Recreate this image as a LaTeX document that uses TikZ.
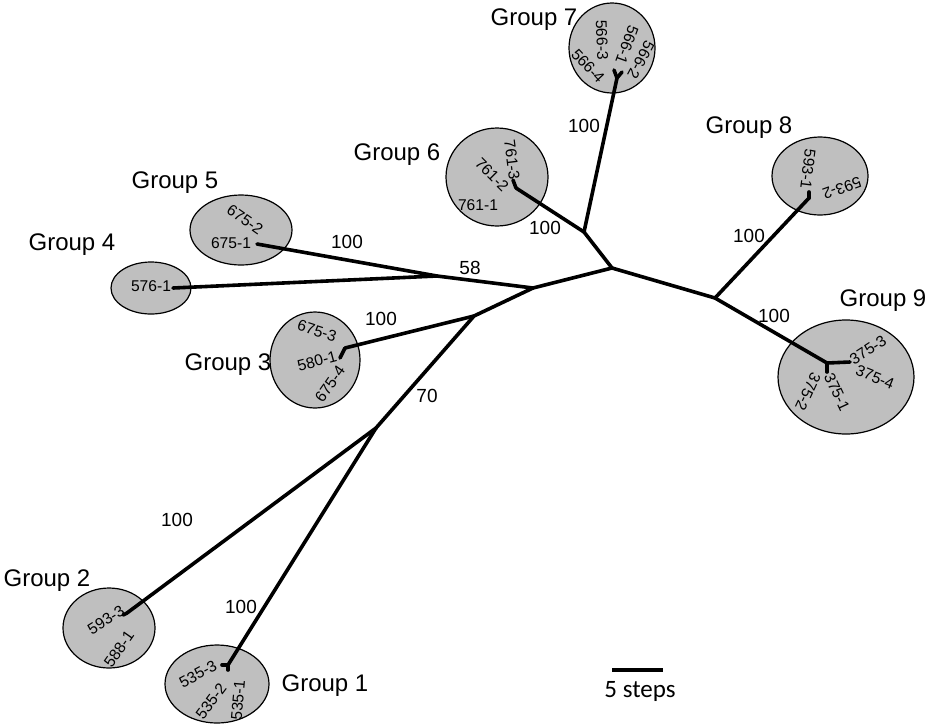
\documentclass[tikz,border=0pt]{standalone}
\usepackage{fontspec}
\setmainfont{Liberation Sans}
\newfontfamily\stepsfont{Carlito}
\usetikzlibrary{shapes.geometric}

\begin{document}
\begin{tikzpicture}[x=0.5pt, y=-0.5pt,
    branch/.style={line width=1.8pt, line join=round, line cap=round},
    grp/.style={ellipse, draw, line width=0.6pt, fill=black!25, inner sep=0pt},
    grpname/.style={font=\fontsize{12}{14}\selectfont},
    boot/.style={font=\fontsize{9.5}{11}\selectfont},
    isolate/.style={font=\fontsize{7.8}{9}\selectfont, inner sep=0pt}]

    \useasboundingbox (0,0) rectangle (931,724);

    \node[grp, minimum width=43pt, minimum height=45pt] (g7) at (612,48) {};
    \node[grp, minimum width=51pt, minimum height=49pt] (g6) at (497,177) {};
    \node[grp, minimum width=51pt, minimum height=35pt] (g5) at (241,230) {};
    \node[grp, minimum width=40pt, minimum height=26pt] (g4) at (151,288) {};
    \node[grp, minimum width=45pt, minimum height=48pt] (g3) at (315,360) {};
    \node[grp, minimum width=48pt, minimum height=39pt] (g8) at (820,176) {};
    \node[grp, minimum width=68pt, minimum height=57pt] (g9) at (846,377) {};
    \node[grp, minimum width=46pt, minimum height=40pt] (g2) at (109,628) {};
    \node[grp, minimum width=52pt, minimum height=39pt] (g1) at (217,684) {};

    \node[grpname] (name7) at (534,20) {Group 7};
    \node[grpname] (name6) at (397,155) {Group 6};
    \node[grpname] (name5) at (175,183) {Group 5};
    \node[grpname] (name4) at (72,245) {Group 4};
    \node[grpname] (name3) at (228,365) {Group 3};
    \node[grpname] (name8) at (749,128) {Group 8};
    \node[grpname] (name9) at (883,301) {Group 9};
    \node[grpname] (name2) at (47,581) {Group 2};
    \node[grpname] (name1) at (325,686) {Group 1};

    \coordinate (root) at (612,268);
    \coordinate (n58) at (533,288);
    \coordinate (n45) at (437,276);
    \coordinate (n70) at (474,316);
    \coordinate (n12) at (376,428);
    \coordinate (n67) at (584,232);
    \coordinate (n89) at (715,298);

    \coordinate (l1) at (228,665);
    \coordinate (l2) at (127,613);
    \coordinate (l3) at (345,348);
    \coordinate (l4) at (173,288);
    \coordinate (l5) at (257,244);
    \coordinate (l6) at (516,188);
    \coordinate (l7) at (617,78);
    \coordinate (l8) at (809,198);
    \coordinate (l9) at (827,363);

    \draw[branch] (l4) -- (n45) -- (n58) -- (root) -- (n89) -- (l9);
    \draw[branch] (l5) -- (n45);
    \draw[branch] (n58) -- (n70) -- (n12) -- (l2);
    \draw[branch] (n12) -- (l1);
    \draw[branch] (n70) -- (l3);
    \draw[branch] (root) -- (n67) -- (l7);
    \draw[branch] (n67) -- (l6);
    \draw[branch] (n89) -- (l8);

    \draw[branch] (l7) -- ++(-3,-8);
    \draw[branch] (l7) -- ++(5,-6);
    \draw[branch] (l9) -- ++(23,-1);
    \draw[branch] (l9) -- ++(0,9);
    \draw[branch] (l6) -- ++(-3,-8);
    \draw[branch] (l3) -- ++(-5,10);
    \draw[branch] (l8) -- ++(0,-6);
    \draw[branch] (l1) -- ++(-6,0);
    \draw[branch] (l1) -- ++(0,5);
    \draw[branch] (l2) -- ++(-4,2);

    \node[boot] (b7) at (584,126) {100};
    \node[boot] (b6) at (545,228) {100};
    \node[boot] (b5) at (347,242) {100};
    \node[boot] (b58) at (470,268) {58};
    \node[boot] (b3) at (381,319) {100};
    \node[boot] (b70) at (427,396) {70};
    \node[boot] (b8) at (749,236) {100};
    \node[boot] (b9) at (774,316) {100};
    \node[boot] (b2) at (177,520) {100};
    \node[boot] (b1) at (241,607) {100};

    \node[isolate, rotate=-88] (i5663) at (602,40) {566-3};
    \node[isolate, rotate=-110] (i5661) at (627,45) {566-1};
    \node[isolate, rotate=-118] (i5662) at (641,60) {566-2};
    \node[isolate, rotate=-47] (i5664) at (588,66) {566-4};

    \node[isolate, rotate=-83] (i7613) at (512,160) {761-3};
    \node[isolate, rotate=-45] (i7612) at (492,175) {761-2};
    \node[isolate] (i7611) at (478,205) {761-1};

    \node[isolate, rotate=-35] (i6752) at (245,220) {675-2};
    \node[isolate] (i6751) at (231,243) {675-1};

    \node[isolate] (i5761) at (151,286) {576-1};

    \node[isolate, rotate=-18] (i6753) at (317,331) {675-3};
    \node[isolate, rotate=15] (i5801) at (317,361) {580-1};
    \node[isolate, rotate=55] (i6754) at (330,384) {675-4};

    \node[isolate, rotate=-97] (i5931) at (808,169) {593-1};
    \node[isolate, rotate=-160] (i5932) at (842,188) {593-2};

    \node[isolate, rotate=33] (i3753) at (868,350) {375-3};
    \node[isolate, rotate=-22] (i3754) at (875,377) {375-4};
    \node[isolate, rotate=-65] (i3751) at (837,392) {375-1};
    \node[isolate, rotate=-115] (i3752) at (808,392) {375-2};

    \node[isolate, rotate=32] (i5933) at (106,620) {593-3};
    \node[isolate, rotate=55] (i5881) at (119,649) {588-1};

    \node[isolate, rotate=28] (i5353) at (198,674) {535-3};
    \node[isolate, rotate=53] (i5352) at (211,701) {535-2};
    \node[isolate, rotate=85] (i5351) at (238,700) {535-1};

    \coordinate (s1) at (612,670);
    \coordinate (s2) at (663,670);
    \draw[line width=2pt] (s1) -- (s2);
    \node[font=\stepsfont\fontsize{12.5}{14}\selectfont] (steps) at (640,691) {5 steps};

\end{tikzpicture}
\end{document}
